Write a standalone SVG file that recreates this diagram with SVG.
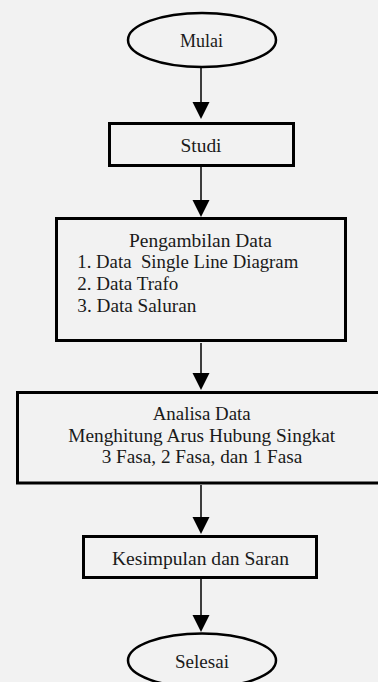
<svg xmlns="http://www.w3.org/2000/svg" width="378" height="682" viewBox="0 0 378 682">
<defs>
<style>
.bg{fill:#f2f2f2}
.box{fill:#f2f2f2;stroke:#000;stroke-width:3}
.term{fill:#f2f2f2;stroke:#000;stroke-width:2.5}
.t{font-family:"Liberation Serif","Times New Roman",serif;font-size:19px;fill:#1a1a1a}
.c{text-anchor:middle}
.ln{stroke:#000;stroke-width:1.5;fill:none}
.ah{fill:#000}
</style>
</defs>
<rect class="bg" x="0" y="0" width="378" height="682"/>
<g id="connectors">
<line class="ln" x1="201" y1="68" x2="201" y2="102"/>
<path class="ah" d="M192.5,102 L209.5,102 L201,119 Z"/>
<line class="ln" x1="201" y1="167" x2="201" y2="200"/>
<path class="ah" d="M192.5,200 L209.5,200 L201,217 Z"/>
<line class="ln" x1="201" y1="343" x2="201" y2="373"/>
<path class="ah" d="M192.5,373 L209.5,373 L201,390 Z"/>
<line class="ln" x1="201" y1="485" x2="201" y2="517"/>
<path class="ah" d="M192.5,517 L209.5,517 L201,534 Z"/>
<line class="ln" x1="201" y1="579" x2="201" y2="615"/>
<path class="ah" d="M192.5,615 L209.5,615 L201,632 Z"/>
</g>
<g id="mulai">
<ellipse class="term" cx="202" cy="40" rx="74" ry="27"/>
<text class="t c" x="201.5" y="47" textLength="43" lengthAdjust="spacingAndGlyphs">Mulai</text>
</g>
<g id="studi">
<rect class="box" x="109.5" y="123.5" width="184" height="42"/>
<text class="t c" x="201" y="152" textLength="41" lengthAdjust="spacingAndGlyphs">Studi</text>
</g>
<g id="pengambilan">
<rect class="box" x="56.5" y="218.5" width="289" height="122"/>
<text class="t c" x="200.5" y="247" textLength="143" lengthAdjust="spacingAndGlyphs">Pengambilan Data</text>
<text class="t" x="77.3" y="268.3" textLength="221" lengthAdjust="spacingAndGlyphs" xml:space="preserve">1. Data  Single Line Diagram</text>
<text class="t" x="77.3" y="290" textLength="101" lengthAdjust="spacingAndGlyphs">2. Data Trafo</text>
<text class="t" x="77.3" y="311.7" textLength="119" lengthAdjust="spacingAndGlyphs">3. Data Saluran</text>
</g>
<g id="analisa">
<rect class="box" x="17.5" y="392.5" width="370" height="90.5"/>
<text class="t c" x="201.7" y="420" textLength="98" lengthAdjust="spacingAndGlyphs">Analisa Data</text>
<text class="t c" x="201.7" y="442" textLength="267" lengthAdjust="spacingAndGlyphs">Menghitung Arus Hubung Singkat</text>
<text class="t c" x="202" y="463.3" textLength="200.6" lengthAdjust="spacingAndGlyphs">3 Fasa, 2 Fasa, dan 1 Fasa</text>
</g>
<g id="kesimpulan">
<rect class="box" x="83.5" y="536.5" width="233" height="41"/>
<text class="t c" x="200.5" y="565" textLength="177" lengthAdjust="spacingAndGlyphs">Kesimpulan dan Saran</text>
</g>
<g id="selesai">
<ellipse class="term" cx="202" cy="660.5" rx="74" ry="27"/>
<text class="t c" x="202" y="668" textLength="54" lengthAdjust="spacingAndGlyphs">Selesai</text>
</g>
</svg>
